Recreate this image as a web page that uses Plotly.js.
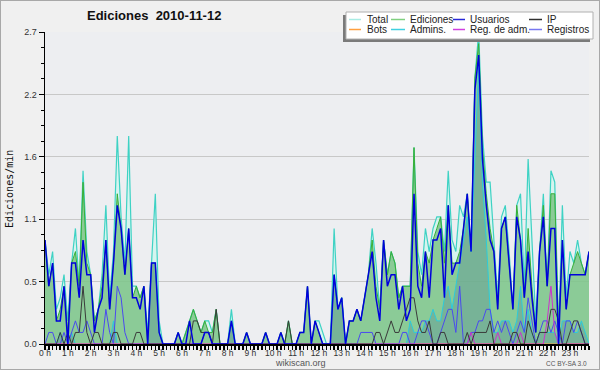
<!DOCTYPE html>
<html>
<head>
<meta charset="utf-8">
<script src="https://cdn.plot.ly/plotly-3.0.1.min.js"></script>
<style>
  html, body { margin: 0; padding: 0; background: #f0f0f0; }
  #wrap { position: relative; width: 600px; height: 370px; }
  #chart { width: 600px; height: 370px; }
  #frame { position: absolute; left: 0; top: 0; width: 598px; height: 368px; border: 1px solid #a8a8a8; pointer-events: none; }
</style>
</head>
<body>
<div id="wrap"><div id="chart"></div><div id="frame"></div></div>
<script>
// 10-minute bins, 144 per day (edits per minute)
const hourLabels = ["0 h","1 h","2 h","3 h","4 h","5 h","6 h","7 h","8 h","9 h","10 h","11 h",
                    "12 h","13 h","14 h","15 h","16 h","17 h","18 h","19 h","20 h","21 h","22 h","23 h"];

const total = [
0.9,0.6,0.8,0.3,0.4,0.6,
0.2,0.7,1.0,0.5,1.5,0.8,
0.6,0.2,0.3,0.6,1.2,0.4,
0.8,1.8,1.1,0.7,1.8,0.5,
0.5,0.4,0.5,0.1,0.7,1.3,
0.2,0.0,0.0,0.0,0.0,0.1,
0.0,0.1,0.2,0.3,0.2,0.1,
0.2,0.2,0.1,0.3,0.0,0.0,
0.0,0.3,0.0,0.0,0.0,0.1,
0.0,0.0,0.0,0.0,0.1,0.0,
0.0,0.0,0.1,0.0,0.2,0.0,
0.0,0.1,0.1,0.5,0.0,0.2,
0.2,0.1,0.0,0.0,1.0,0.3,
0.4,0.0,0.2,0.2,0.3,0.2,
0.4,0.6,1.0,0.7,0.3,0.9,
0.6,0.8,0.7,0.4,0.5,0.5,
0.5,1.7,0.8,0.6,1.0,0.8,
1.0,1.1,1.1,0.8,1.5,0.9,
0.8,1.2,1.1,1.3,0.8,2.3,
2.7,1.8,1.4,1.4,0.9,0.4,
1.1,1.2,0.8,0.3,1.2,1.3,
0.5,1.6,0.9,0.2,0.8,1.3,
0.5,1.5,1.4,0.1,1.2,0.4,
0.8,0.7,0.9,0.7,0.6,0.8];

const ediciones = [
0.9,0.5,0.7,0.2,0.3,0.5,
0.1,0.7,0.8,0.5,1.4,0.7,
0.6,0.2,0.3,0.5,0.9,0.3,
0.7,1.3,1.0,0.6,1.0,0.4,
0.5,0.4,0.5,0.0,0.7,0.7,
0.1,0.0,0.0,0.0,0.0,0.1,
0.0,0.1,0.2,0.3,0.2,0.1,
0.2,0.1,0.1,0.3,0.0,0.0,
0.0,0.2,0.0,0.0,0.0,0.1,
0.0,0.0,0.0,0.0,0.1,0.0,
0.0,0.0,0.1,0.0,0.2,0.0,
0.0,0.1,0.1,0.5,0.0,0.2,
0.1,0.0,0.0,0.0,0.6,0.3,
0.4,0.0,0.2,0.2,0.3,0.2,
0.4,0.6,0.9,0.5,0.3,0.9,
0.6,0.8,0.7,0.4,0.5,0.5,
0.5,1.7,0.7,0.5,0.8,0.7,
0.9,1.0,1.1,0.7,1.2,0.7,
0.7,0.8,1.0,1.3,0.8,2.3,
2.6,1.7,1.3,1.0,0.8,0.3,
1.0,1.1,0.7,0.3,1.2,0.9,
0.4,1.0,0.5,0.1,0.8,1.2,
0.5,1.3,1.3,0.1,0.9,0.3,
0.6,0.7,0.8,0.7,0.6,0.8];

const usuarios = [
0.9,0.5,0.7,0.2,0.2,0.5,
0.0,0.7,0.7,0.4,0.9,0.6,
0.6,0.1,0.3,0.4,0.9,0.3,
0.7,1.2,1.0,0.6,1.0,0.4,
0.4,0.3,0.5,0.0,0.7,0.7,
0.1,0.0,0.0,0.0,0.0,0.1,
0.0,0.0,0.2,0.0,0.0,0.0,
0.1,0.1,0.0,0.0,0.0,0.0,
0.0,0.2,0.0,0.0,0.0,0.1,
0.0,0.0,0.0,0.0,0.1,0.0,
0.0,0.0,0.1,0.0,0.0,0.0,
0.0,0.1,0.1,0.5,0.0,0.2,
0.1,0.0,0.0,0.0,0.6,0.3,
0.4,0.0,0.2,0.2,0.3,0.2,
0.4,0.6,0.8,0.4,0.2,0.9,
0.5,0.6,0.6,0.3,0.5,0.2,
0.3,1.3,0.5,0.4,0.8,0.4,
0.9,0.9,1.0,0.4,1.2,0.6,
0.7,0.7,1.0,1.3,0.8,2.2,
2.5,1.6,1.2,0.9,0.8,0.3,
1.0,1.1,0.7,0.3,1.1,0.9,
0.4,0.8,0.4,0.1,0.8,1.1,
0.5,1.0,1.0,0.0,0.9,0.3,
0.6,0.6,0.6,0.6,0.6,0.8];

const ip = [
0,0,0,0,0.1,0,
0.1,0,0.1,0.1,0.5,0.1,
0,0.1,0.1,0,0,0,
0.1,0.1,0,0,0,0,
0.1,0.1,0,0,0,0,
0,0,0,0,0,0,
0,0,0,0.2,0.2,0.1,
0.1,0.1,0,0.3,0,0,
0,0,0,0,0,0,
0,0,0,0,0,0,
0,0,0,0,0.2,0,
0,0,0,0,0,0,
0,0,0,0,0,0,
0,0,0,0,0,0,
0,0,0,0.1,0.1,0,
0.1,0.2,0.1,0.1,0.2,0.3,
0.4,0.4,0.2,0.1,0.1,0.2,
0,0,0.1,0.1,0,0,
0,0,0,0.1,0,0.1,
0.1,0.1,0.1,0.2,0,0,
0,0,0,0.1,0.1,0,
0,0.2,0.1,0,0.1,0.1,
0.1,0.3,0.3,0.2,0,0,
0.1,0.2,0.2,0.1,0,0];

const bots = new Array(144).fill(0);

const admins = [
0,0,0,0,0.1,0,
0,0.1,0,0,0,0,
0,0,0,0,0,0,
0.2,0,0,0,0,0,
0,0,0,0,0.7,0.7,
0.1,0,0,0,0,0,
0,0,0,0,0,0,
0,0,0,0,0,0,
0,0.2,0,0,0,0,
0,0,0,0,0,0,
0,0,0,0,0,0,
0,0,0,0,0,0,
0,0,0,0,0.6,0.3,
0.4,0,0,0,0,0,
0,0,0,0,0,0,
0,0,0,0,0,0,
0.2,0.1,0.1,0.1,0.2,0.2,
0.3,0.2,0.2,0.4,0.5,0.3,
0.5,0.7,0.9,1.1,0.8,1.6,
2.4,1.4,0.9,0.3,0.1,0.1,
0.2,0.2,0.2,0.1,0.2,0.5,
0.1,0.3,0.1,0,0.1,0.1,
0.1,0.1,0.1,0,0.2,0.2,
0.2,0.1,0.1,0.2,0.1,0];

const regAdm = [
0,0,0,0,0,0, 0,0,0,0,0,0, 0,0,0,0,0,0, 0,0,0,0,0,0,
0,0,0,0,0,0, 0,0,0,0,0,0, 0,0,0,0,0,0, 0,0,0,0,0,0,
0,0,0,0,0,0, 0,0,0,0,0,0, 0,0,0,0,0,0, 0,0,0,0,0,0,
0,0,0,0,0,0, 0,0,0,0,0,0, 0,0,0,0,0,0, 0,0,0,0,0,0,
0,0,0,0,0,0, 0,0,0,0,0,0,
0,0,0,0,0.1,0, 0,0,0,0,0,0.1,
0,0,0,0,0,0.1, 0,0,0,0,0,0,
0.2,0.5,0.1,0,0,0, 0,0,0,0,0,0,
0,0,0.1,0.1,0,0];

const registros = [
0,0.1,0.1,0,0,0.1,
0,0.1,0.2,0.1,0.1,0.2,
0.1,0,0,0,0.3,0.1,
0,0.5,0.4,0.1,0,0,
0,0,0,0,0,0,
0,0,0,0,0,0,
0,0,0,0,0,0,
0.1,0.1,0,0,0,0,
0,0,0,0,0,0,
0,0,0,0,0,0,
0,0,0,0,0,0,
0,0,0,0,0,0,
0,0,0,0,0,0,
0,0,0,0,0,0.1,
0.1,0.1,0.1,0,0,0,
0,0,0,0,0.1,0.1,
0,0,0.1,0.2,0.2,0.1,
0,0,0.1,0.2,0.3,0.3,
0.1,0.5,0,0,0.1,0.1,
0.2,0.2,0.3,0.3,0.1,0.2,
0.1,0.2,0.1,0,0.1,0.2,
0.1,0.4,0.2,0,0.1,0.2,
0.2,0.1,0.2,0.1,0,0.2,
0.2,0.1,0.2,0.1,0,0];

const yTickVals = [0, 0.54, 1.08, 1.62, 2.16, 2.7];
const yTickText = ["0.0", "0.5", "1.1", "1.6", "2.2", "2.7"];

const legendItems = [
  ["Total", "#a8ece4"], ["Ediciones", "#80d080"], ["Usuarios", "#2828d8"], ["IP", "#303030"],
  ["Bots", "#ffa040"], ["Admins.", "#40d0e0"], ["Reg. de adm.", "#d040e0"], ["Registros", "#7878f0"]
];

const xs = usuarios.map((_, i) => i / 6);

function tr(y, color, width, fill, fillcolor) {
  const t = { x: xs, y: y, type: "scatter", mode: "lines", line: { color: color, width: width, shape: "linear" }, hoverinfo: "skip" };
  if (fill) { t.fill = "tozeroy"; t.fillcolor = fillcolor; }
  return t;
}

const traces = [
  tr(total, "#3ed2c4", 1.2, true, "rgba(205,246,238,0.75)"),
  tr(ediciones, "#38b038", 1.0, true, "rgba(70,165,70,0.52)"),
  tr(admins, "#2ccbdc", 1.0, true, "rgba(70,120,150,0.28)"),
  tr(bots, "#ffa040", 1.0),
  tr(registros, "#4a4af0", 1.0),
  tr(regAdm, "#cc33cc", 1.0),
  tr(ip, "#3a3a3a", 1.0),
  tr(usuarios, "#0000dc", 1.5)
];

// pixel -> paper helpers for decorations
const L = 45, R = 589, T = 32, B = 344;
const px = x => (x - L) / (R - L);
const py = y => (B - y) / (B - T);

const shapes = [
  { type: "rect", xref: "paper", yref: "paper", x0: px(343), x1: px(590), y0: py(42), y1: py(15),
    fillcolor: "#7a7a7a", line: { width: 0 }, layer: "above" },
  { type: "rect", xref: "paper", yref: "paper", x0: px(346), x1: px(593), y0: py(39), y1: py(12),
    fillcolor: "#ffffff", line: { color: "#b0b0b0", width: 1 }, layer: "above" }
];
const annotations = [];
const colLine = [[349, 361], [391, 405], [453, 465], [529, 542]];
const colText = [365, 408, 468, 545];
const rowY = [19.5, 29.5];
legendItems.forEach((it, k) => {
  const c = k % 4, r = Math.floor(k / 4);
  shapes.push({ type: "line", xref: "paper", yref: "paper", x0: px(colLine[c][0]), x1: px(colLine[c][1]),
    y0: py(rowY[r]), y1: py(rowY[r]), line: { color: it[1], width: 1.5 }, layer: "above" });
  annotations.push({ xref: "paper", yref: "paper", x: px(colText[c]), y: py(rowY[r]), xanchor: "left", yanchor: "middle",
    text: it[0], showarrow: false, font: { family: "Liberation Sans", size: 10, color: "#222" } });
});

annotations.push({ xref: "paper", yref: "paper", x: px(154), y: py(16), xanchor: "center", yanchor: "middle",
  text: "<b>Ediciones\u00a0\u00a02010-11-12</b>", showarrow: false, font: { family: "Liberation Sans", size: 13, color: "#111" } });
annotations.push({ xref: "paper", yref: "paper", x: px(9), y: py(189), xanchor: "center", yanchor: "middle", textangle: -90,
  text: "Ediciones/min", showarrow: false, font: { family: "DejaVu Sans Mono", size: 10, color: "#111" } });
annotations.push({ xref: "paper", yref: "paper", x: px(300), y: py(362.5), xanchor: "center", yanchor: "middle",
  text: "wikiscan.org", showarrow: false, font: { family: "Liberation Sans", size: 9, color: "#555" } });
annotations.push({ xref: "paper", yref: "paper", x: px(589), y: py(363.5), xanchor: "right", yanchor: "middle",
  text: "CC BY-SA 3.0", showarrow: false, font: { family: "Liberation Sans", size: 6.5, color: "#555" } });

const layout = {
  width: 600, height: 370,
  margin: { l: L, r: 600 - R, t: T, b: 370 - B, pad: 0 },
  paper_bgcolor: "#f0f0f0", plot_bgcolor: "#edeef1",
  showlegend: false,
  xaxis: {
    range: [0, 143 / 6], tickmode: "array", tickvals: hourLabels.map((_, h) => h), ticktext: hourLabels,
    ticks: "outside", ticklen: 4, tickwidth: 1.5, tickcolor: "#000", ticklabelstandoff: -4,
    showline: true, linecolor: "#000", linewidth: 1.5, showgrid: false, zeroline: false,
    tickfont: { family: "Liberation Sans", size: 8.5, color: "#333" },
    minor: { tickmode: "linear", tick0: 0, dtick: 1 / 6, ticks: "outside", ticklen: 4, tickwidth: 1.5, tickcolor: "#000", showgrid: false },
    fixedrange: true
  },
  yaxis: {
    range: [0, 2.7], tickmode: "array", tickvals: yTickVals, ticktext: yTickText,
    ticks: "outside", ticklen: 5, tickwidth: 1, tickcolor: "#000",
    showline: true, linecolor: "#000", linewidth: 1.5,
    showgrid: true, gridcolor: "#c8c8c8", gridwidth: 1, zeroline: false,
    tickfont: { family: "Liberation Sans", size: 9, color: "#333" },
    minor: { tickmode: "linear", tick0: 0, dtick: 0.135, ticks: "outside", ticklen: 3, tickwidth: 1, tickcolor: "#000", showgrid: false },
    fixedrange: true
  },
  shapes: shapes,
  annotations: annotations
};

Plotly.newPlot("chart", traces, layout, { staticPlot: true, displayModeBar: false });
</script>
</body>
</html>
